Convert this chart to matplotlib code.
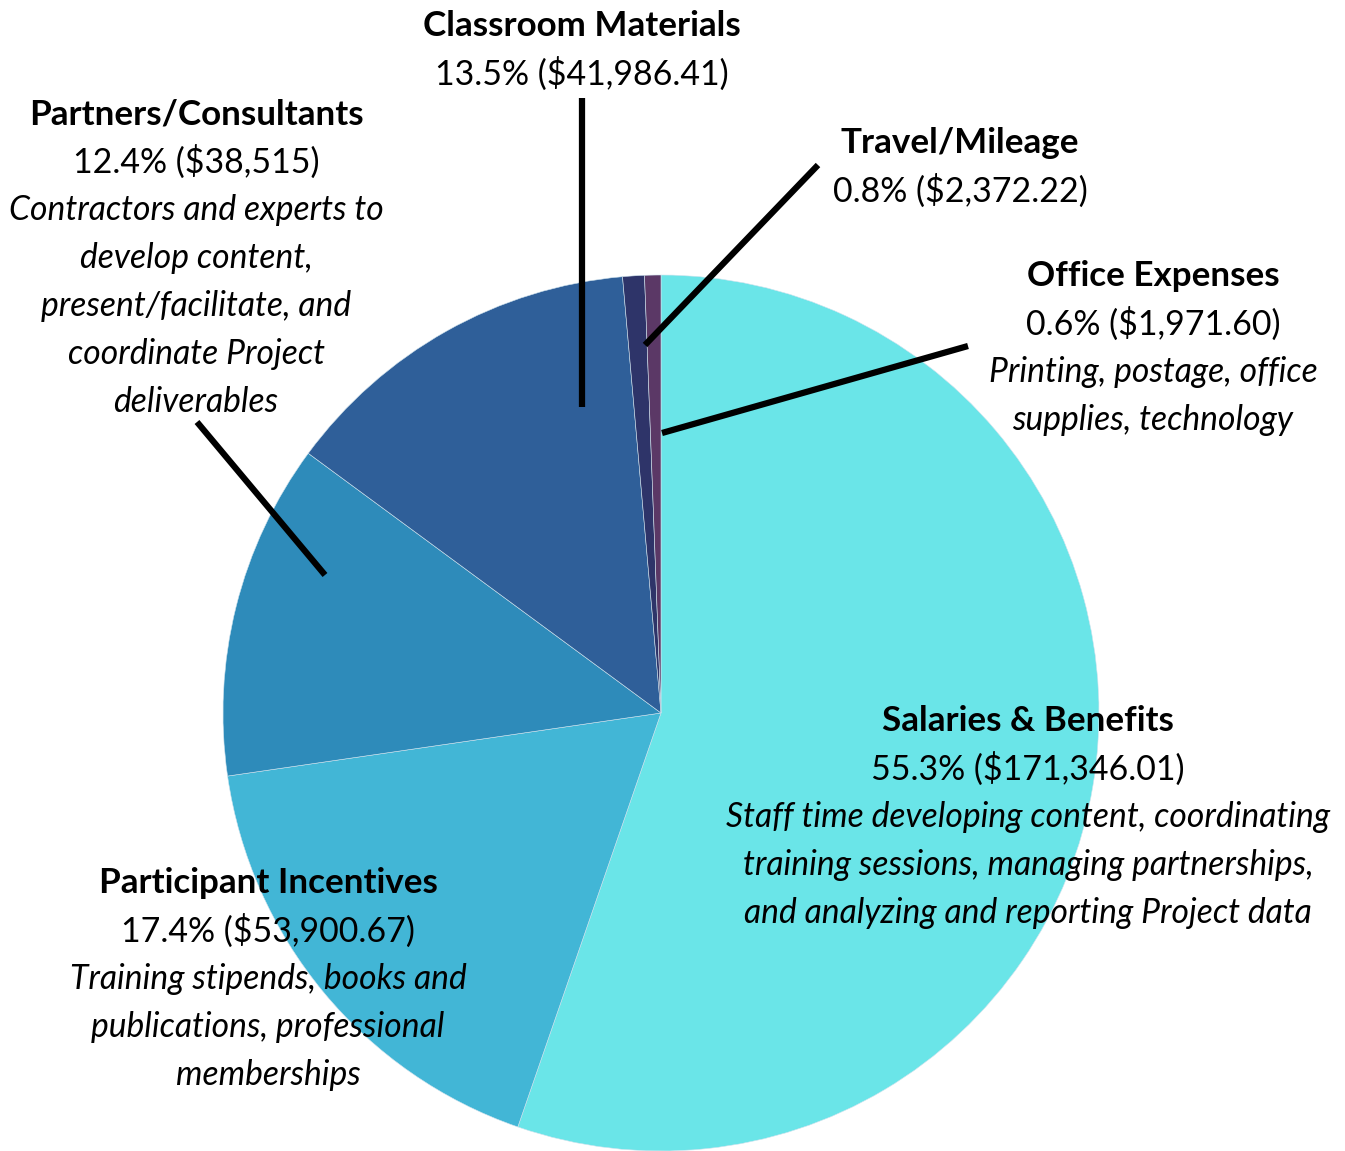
import matplotlib.pyplot as plt

plt.rcParams['font.family'] = ['Lato', 'DejaVu Sans']

# data
categories = ['Salaries & Benefits', 'Participant Incentives', 'Partners/Consultants',
              'Classroom Materials', 'Travel/Mileage', 'Office Expenses']
shares = [55.3, 17.4, 12.4, 13.5, 0.8, 0.6]
amounts = ['$171,346.01', '$53,900.67', '$38,515', '$41,986.41', '$2,372.22', '$1,971.60']
descriptions = [
    ['Staff time developing content, coordinating',
     'training sessions, managing partnerships,',
     'and analyzing and reporting Project data'],
    ['Training stipends, books and',
     'publications, professional',
     'memberships'],
    ['Contractors and experts to',
     'develop content,',
     'present/facilitate, and',
     'coordinate Project',
     'deliverables'],
    [],
    [],
    ['Printing, postage, office',
     'supplies, technology'],
]
colors = ['#6ae5e8', '#42b6d6', '#2e8bba', '#2f5f99', '#2e3469', '#5b3866']

W, H = 1345, 1151
fig = plt.figure(figsize=(W / 100, H / 100), dpi=100)
ax = fig.add_axes([0, 0, 1, 1])

cx, cy, r = 661, H - 713, 438
ax.pie(shares, colors=colors, startangle=90, counterclock=False,
       center=(cx, cy), radius=r, frame=True,
       wedgeprops=dict(linewidth=0.4, edgecolor='#cfe3ee'))
ax.set_xlim(0, W)
ax.set_ylim(0, H)
ax.set_aspect('equal')
ax.axis('off')

# label layout: (x centre, top line y in px from top), leader line (from, to) in px
label_pos = [(1028, 721), (268, 883), (196, 114), (582, 26), (960, 143), (1153, 276)]
leaders = [None, None, ((197, 422), (325, 575)), ((582, 98), (582, 407)),
           ((818, 165), (645, 345)), ((968, 346), (662, 433))]

step = 48
for i, name in enumerate(categories):
    x, y = label_pos[i]
    ax.text(x, H - y, name, ha='center', va='center', fontsize=25.2,
            fontweight='bold', color='black')
    ax.text(x, H - y - step, f'{shares[i]}% ({amounts[i]})', ha='center',
            va='center', fontsize=24.4, color='black')
    for j, line in enumerate(descriptions[i]):
        ax.text(x, H - y - step * (j + 2), line, ha='center', va='center',
                fontsize=24.2, style='italic', color='black')
    if leaders[i] is not None:
        (x0, y0), (x1, y1) = leaders[i]
        ax.plot([x0, x1], [H - y0, H - y1], color='black', linewidth=4.5,
                solid_capstyle='butt')

fig.savefig('out.png', dpi=100)
